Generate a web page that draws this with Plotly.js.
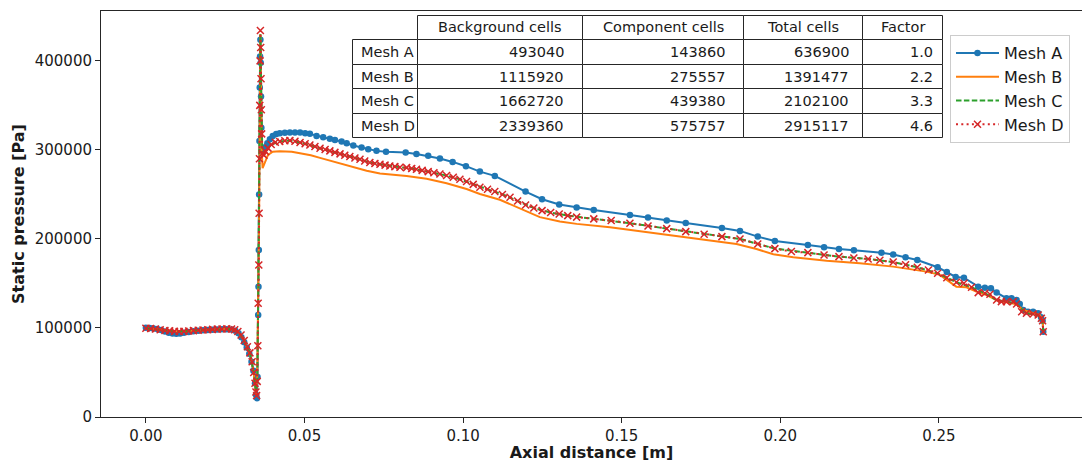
<!DOCTYPE html>
<html>
<head>
<meta charset="utf-8">
<script src="https://cdn.plot.ly/plotly-3.0.1.min.js"></script>
<style>
  html, body { margin: 0; padding: 0; background: #ffffff; }
  #chart { width: 1082px; height: 462px; }
</style>
</head>
<body>
<div id="chart"></div>
<script>
// ---------------- Static pressure along the axis, four mesh refinements ----------------

// Mesh A (coarsest) - axial distance [m] and static pressure [Pa]
const meshAx = [
  0, 0.0012, 0.0024, 0.0036, 0.0048, 0.006, 0.0072, 0.0084, 0.0096, 0.0108,
  0.012, 0.0135, 0.015, 0.0165, 0.018, 0.0195, 0.021, 0.0225, 0.024, 0.0255,
  0.027, 0.0282, 0.0292, 0.0301, 0.031, 0.0318, 0.0326, 0.0333, 0.0339, 0.0344,
  0.0347, 0.0350, 0.0352, 0.0354, 0.0355, 0.0356, 0.0357, 0.0358, 0.0359, 0.0360,
  0.0361, 0.0362, 0.0363, 0.0364, 0.0366, 0.0370, 0.0376, 0.0383, 0.0391, 0.0400,
  0.0411, 0.0422, 0.0438, 0.0454, 0.0470, 0.0486, 0.0502, 0.0517, 0.0538, 0.0559,
  0.0580, 0.0596, 0.0617, 0.0633, 0.0654, 0.0680, 0.0701, 0.0727, 0.0757, 0.0819,
  0.0853, 0.0890, 0.0927, 0.0967, 0.1009, 0.1053, 0.1100, 0.1197, 0.1249, 0.1303,
  0.1358, 0.1412, 0.1526, 0.1583, 0.1642, 0.1702, 0.1816, 0.1873, 0.1929, 0.1983,
  0.2087, 0.2138, 0.2185, 0.2232, 0.2319, 0.2356, 0.2395, 0.2432, 0.2496, 0.2525,
  0.2553, 0.2579, 0.2624, 0.2645, 0.2664, 0.2682, 0.2713, 0.2729, 0.2745, 0.2755,
  0.2766, 0.2781, 0.2797, 0.2813, 0.2822, 0.2827, 0.2829
];
const meshAp = [
  100200, 99900, 99500, 98800, 97600, 96000, 94600, 93800, 93500, 93800,
  94500, 95400, 96200, 96800, 97300, 97700, 98000, 98300, 98500, 98500,
  98200, 97000, 94000, 89500, 84000, 78000, 71000, 62000, 52000, 38000,
  25000, 21000, 45000, 114600, 146400, 187600, 250000, 310000, 370000, 405000,
  423600, 398000, 360000, 325000, 302000, 299000, 303000, 307500, 312000, 315500,
  317800, 318700, 319300, 319500, 319600, 319500, 318800, 318000, 315700, 314200,
  312400, 311200, 309400, 307500, 304900, 302600, 300700, 298900, 297800, 297000,
  295500, 293300, 290300, 286500, 281700, 275600, 270800, 253200, 244600, 238600,
  235200, 232600, 227000, 224000, 220600, 218000, 212400, 209000, 202600, 197800,
  193300, 190700, 188800, 187400, 184600, 182400, 179400, 176400, 168200, 162900,
  157300, 156500, 146400, 145300, 144600, 139700, 133400, 133400, 131500, 127000,
  120200, 118300, 118300, 116500, 112000, 108200, 95800
];

// Mesh B
const meshBx = [
  0, 0.004, 0.008, 0.012, 0.016, 0.02, 0.024, 0.027, 0.029, 0.031,
  0.033, 0.034, 0.0347, 0.0351, 0.0354, 0.0357, 0.0359, 0.0361, 0.0363, 0.0365,
  0.0368, 0.0375, 0.0385, 0.0400, 0.0422, 0.046, 0.0486, 0.052, 0.0549, 0.058,
  0.0612, 0.0654, 0.0696, 0.0738, 0.078, 0.0822, 0.0885, 0.0948, 0.1011, 0.1053,
  0.1116, 0.1179, 0.1242, 0.1305, 0.1358, 0.1463, 0.1568, 0.1673, 0.1778, 0.1862,
  0.1925, 0.1978, 0.2041, 0.2146, 0.2251, 0.2314, 0.2356, 0.2461, 0.2503, 0.2555,
  0.2587, 0.2618, 0.2650, 0.2682, 0.2713, 0.2745, 0.2766, 0.2797, 0.2818, 0.2827,
  0.2829
];
const meshBp = [
  99500, 98500, 96500, 96000, 97000, 98000, 98700, 98600, 96000, 86000,
  68000, 50000, 26000, 45000, 120000, 230000, 340000, 430000, 370000, 300000,
  279400, 285000, 294400, 298000, 298500, 298000, 296500, 294000, 291000, 288000,
  285000, 280500, 276500, 273500, 272000, 270800, 267500, 262500, 256000, 250500,
  244000, 234500, 224500, 219500, 216900, 213100, 208200, 202600, 197800, 194400,
  188600, 182800, 179400, 175600, 172700, 170800, 168900, 163300, 159600, 146400,
  145700, 140800, 137100, 131000, 128500, 126500, 120200, 117200, 114600, 109000,
  95800
];

// Mesh C
const meshCx = [
  0, 0.003, 0.006, 0.009, 0.012, 0.015, 0.018, 0.021, 0.024, 0.027,
  0.029, 0.031, 0.0328, 0.034, 0.0347, 0.0351, 0.0354, 0.0357, 0.0359, 0.0361,
  0.0363, 0.0365, 0.0367, 0.0378, 0.0395, 0.0422, 0.0454, 0.0486, 0.0517, 0.0549,
  0.0580, 0.0612, 0.0643, 0.0675, 0.0706, 0.0738, 0.0769, 0.0801, 0.0838, 0.0871,
  0.0908, 0.0948, 0.0990, 0.1032, 0.1077, 0.1124, 0.1172, 0.1223, 0.1276, 0.1330,
  0.1412, 0.1526, 0.1642, 0.1760, 0.1873, 0.1983, 0.2087, 0.2185, 0.2277, 0.2356,
  0.2432, 0.2496, 0.2555, 0.2603, 0.2645, 0.2682, 0.2713, 0.2745, 0.2776, 0.2813,
  0.2827, 0.2829
];
const meshCp = [
  99600, 98800, 97200, 96200, 96200, 97000, 97800, 98400, 98900, 98800,
  96000, 86000, 72000, 50000, 28000, 40000, 127800, 228900, 350000, 430000,
  380000, 318000, 296000, 298000, 306000, 309400, 310500, 308200, 305600, 301900,
  298900, 295500, 292500, 289500, 285800, 283900, 282000, 280500, 279200, 277000,
  274300, 271200, 267000, 261300, 255700, 250000, 242500, 234800, 229600, 226200,
  222500, 217600, 211600, 205300, 200000, 189100, 184600, 180100, 177500, 174000,
  168200, 161500, 151300, 145700, 139000, 131500, 129600, 127000, 116500, 114600,
  108200, 95800
];

// Mesh D (finest)
const meshDx = [
  0, 0.0015, 0.003, 0.0045, 0.006, 0.0075, 0.009, 0.0105, 0.012, 0.0135,
  0.015, 0.0165, 0.018, 0.0195, 0.021, 0.0225, 0.024, 0.0255, 0.027, 0.028,
  0.029, 0.030, 0.031, 0.032, 0.0328, 0.0335, 0.034, 0.0344, 0.0347, 0.0349,
  0.0351, 0.0353, 0.0354, 0.0356, 0.0357, 0.0358, 0.0359, 0.0360, 0.0361, 0.0362,
  0.0363, 0.0364, 0.0365, 0.0367, 0.0372, 0.0378, 0.0385, 0.0395, 0.0408, 0.0422,
  0.0438, 0.0454, 0.0470, 0.0486, 0.0502, 0.0517, 0.0533, 0.0549, 0.0565, 0.0580,
  0.0596, 0.0612, 0.0627, 0.0643, 0.0659, 0.0675, 0.0690, 0.0706, 0.0722, 0.0738,
  0.0754, 0.0769, 0.0785, 0.0801, 0.0822, 0.0838, 0.0853, 0.0871, 0.0890, 0.0908,
  0.0927, 0.0948, 0.0969, 0.0990, 0.1011, 0.1032, 0.1053, 0.1077, 0.1100, 0.1124,
  0.1148, 0.1172, 0.1197, 0.1223, 0.1249, 0.1276, 0.1303, 0.1330, 0.1358, 0.1412,
  0.1467, 0.1526, 0.1583, 0.1642, 0.1702, 0.1760, 0.1816, 0.1873, 0.1929, 0.1983,
  0.2035, 0.2087, 0.2138, 0.2185, 0.2232, 0.2277, 0.2314, 0.2356, 0.2395, 0.2432,
  0.2467, 0.2496, 0.2525, 0.2555, 0.2579, 0.2603, 0.2624, 0.2645, 0.2661, 0.2682,
  0.2697, 0.2713, 0.2734, 0.2745, 0.2761, 0.2776, 0.2797, 0.2813, 0.2823, 0.2827,
  0.2829
];
const meshDp = [
  99600, 99300, 98800, 98000, 97200, 96700, 96200, 96000, 96200, 96600,
  97000, 97400, 97800, 98100, 98400, 98700, 98900, 99000, 98800, 98000,
  96000, 92000, 86000, 79000, 72000, 62000, 50000, 38000, 28000, 24000,
  40000, 80000, 127800, 170800, 228900, 290000, 350000, 400000, 434000, 415000,
  380000, 345000, 318000, 296000, 294000, 298000, 302000, 306000, 308500, 309400,
  310300, 310500, 309800, 308200, 307000, 305600, 303800, 301900, 300400, 298900,
  297200, 295500, 294000, 292500, 291000, 289500, 287600, 285800, 284800, 283900,
  282900, 282000, 281200, 280500, 280100, 279200, 278300, 277000, 275600, 274300,
  273000, 271200, 269300, 267000, 264400, 261300, 258100, 255700, 253200, 250000,
  246800, 242500, 238200, 234800, 231800, 229600, 228000, 226200, 224500, 222500,
  220600, 217600, 214600, 211600, 208200, 205300, 202600, 200000, 194400, 189100,
  185800, 184600, 182000, 180100, 178600, 177500, 176000, 174000, 171000, 168200,
  165200, 161500, 156500, 151300, 150200, 145700, 139700, 139000, 137900, 131500,
  129600, 129600, 129600, 127000, 118300, 116500, 115700, 114600, 110900, 108200,
  95800
];

// Mesh size table
const tableHeader = ['Background cells', 'Component cells', 'Total cells', 'Factor'];
const meshNames = ['Mesh A', 'Mesh B', 'Mesh C', 'Mesh D'];
const backgroundCells = [493040, 1115920, 1662720, 2339360];
const componentCells = [143860, 275557, 439380, 575757];
const totalCells = [636900, 1391477, 2102100, 2915117];
const refinementFactor = [1.0, 2.2, 3.3, 4.6];

// Axis ticks
const xTicks = [0, 0.05, 0.10, 0.15, 0.20, 0.25];
const yTicks = [0, 100000, 200000, 300000, 400000];

// ---------------- styling / layout ----------------
const FONT = 'DejaVu Sans, Liberation Sans, sans-serif';
const INK = '#1a1a1a';
const C_BLUE = '#1f77b4', C_ORANGE = '#ff7f0e', C_GREEN = '#2ca02c', C_RED = '#d62728';

const W = 1082, H = 462;
const plotL = 101, plotR = 1082, plotT = 11, plotB = 417;
const px2x = px => (px - plotL) / (plotR - plotL);
const px2y = py => (plotB - py) / (plotB - plotT);

const traces = [
  {
    x: meshAx, y: meshAp, name: 'Mesh A', legendgroup: 'a',
    type: 'scatter', mode: 'lines+markers',
    line: { color: C_BLUE, width: 2 },
    marker: { color: C_BLUE, size: 6.5, symbol: 'circle' }
  },
  {
    x: meshBx, y: meshBp, name: 'Mesh B', legendgroup: 'b',
    type: 'scatter', mode: 'lines',
    line: { color: C_ORANGE, width: 2 }
  },
  {
    x: meshCx, y: meshCp, name: 'Mesh C', legendgroup: 'c',
    type: 'scatter', mode: 'lines',
    line: { color: C_GREEN, width: 2, dash: '5.5px,2.4px' }
  },
  {
    x: meshDx, y: meshDp, name: 'Mesh D', legendgroup: 'd',
    type: 'scatter', mode: 'lines+markers',
    line: { color: C_RED, width: 2, dash: '2px,3.3px' },
    marker: { color: C_RED, size: 7, symbol: 'x-thin', line: { color: C_RED, width: 1.5 } }
  }
];

// Table drawn as cell rectangles + text annotations
const colEdges = [352.5, 417.5, 582.5, 743.5, 862.5, 942.5];
const rowEdges = [15.5, 39.5, 64.5, 88.5, 113.5, 137.5];
const tableFont = { family: FONT, size: 14.5, color: INK };
const shapes = [];
const annotations = [];
const bodyColumns = [backgroundCells, componentCells, totalCells,
                     refinementFactor.map(v => v.toFixed(1))];

for (let r = 0; r < 5; r++) {
  for (let c = 0; c < 5; c++) {
    if (r === 0 && c === 0) continue;
    shapes.push({
      type: 'rect', xref: 'paper', yref: 'paper', layer: 'above',
      x0: px2x(colEdges[c]), x1: px2x(colEdges[c + 1]),
      y0: px2y(rowEdges[r + 1]), y1: px2y(rowEdges[r]),
      fillcolor: '#ffffff', line: { color: '#262626', width: 1 }
    });
  }
}
const rowMid = r => px2y((rowEdges[r] + rowEdges[r + 1]) / 2);
tableHeader.forEach((h, i) => {
  annotations.push({
    xref: 'paper', yref: 'paper', showarrow: false,
    x: px2x((colEdges[i + 1] + colEdges[i + 2]) / 2), y: rowMid(0),
    xanchor: 'center', yanchor: 'middle', text: h, font: tableFont
  });
});
meshNames.forEach((m, r) => {
  const w0 = colEdges[1] - colEdges[0];
  annotations.push({
    xref: 'paper', yref: 'paper', showarrow: false,
    x: px2x(colEdges[0] + 0.1 * w0), y: rowMid(r + 1),
    xanchor: 'left', yanchor: 'middle', text: m, font: tableFont
  });
  bodyColumns.forEach((col, c) => {
    const right = colEdges[c + 2], w = colEdges[c + 2] - colEdges[c + 1];
    annotations.push({
      xref: 'paper', yref: 'paper', showarrow: false,
      x: px2x(right - 0.1 * w), y: rowMid(r + 1),
      xanchor: 'right', yanchor: 'middle', text: String(col[r]), font: tableFont
    });
  });
});

const axisCommon = {
  showgrid: false, zeroline: false,
  showline: true, linecolor: '#262626', linewidth: 1,
  ticks: 'outside', ticklen: 5, tickwidth: 1, tickcolor: '#262626',
  tickfont: { family: FONT, size: 15, color: INK },
  automargin: false
};

const layout = {
  width: W, height: H,
  margin: { l: plotL, r: W - plotR, t: plotT, b: H - plotB, pad: 0 },
  paper_bgcolor: '#ffffff', plot_bgcolor: '#ffffff',
  font: { family: FONT, color: INK },
  showlegend: true,
  legend: {
    x: px2x(950), y: px2y(35), xanchor: 'left', yanchor: 'top',
    bgcolor: 'rgba(255,255,255,0.8)', bordercolor: '#cccccc', borderwidth: 1,
    font: { family: FONT, size: 16, color: INK },
    tracegroupgap: 0, itemwidth: 43
  },
  xaxis: Object.assign({}, axisCommon, {
    range: [-0.01415, 0.29512],
    tickvals: xTicks, tickformat: '.2f',
    mirror: true,
    title: { text: 'Axial distance [m]', standoff: 5,
             font: { family: FONT, size: 16, color: INK, weight: 'bold' } }
  }),
  yaxis: Object.assign({}, axisCommon, {
    range: [0, 456000],
    tickvals: yTicks, tickformat: 'd',
    mirror: false,
    title: { text: 'Static pressure [Pa]', standoff: 6,
             font: { family: FONT, size: 16, color: INK, weight: 'bold' } }
  }),
  shapes: shapes,
  annotations: annotations
};

Plotly.newPlot('chart', traces, layout, { staticPlot: true, displayModeBar: false });
</script>
</body>
</html>
